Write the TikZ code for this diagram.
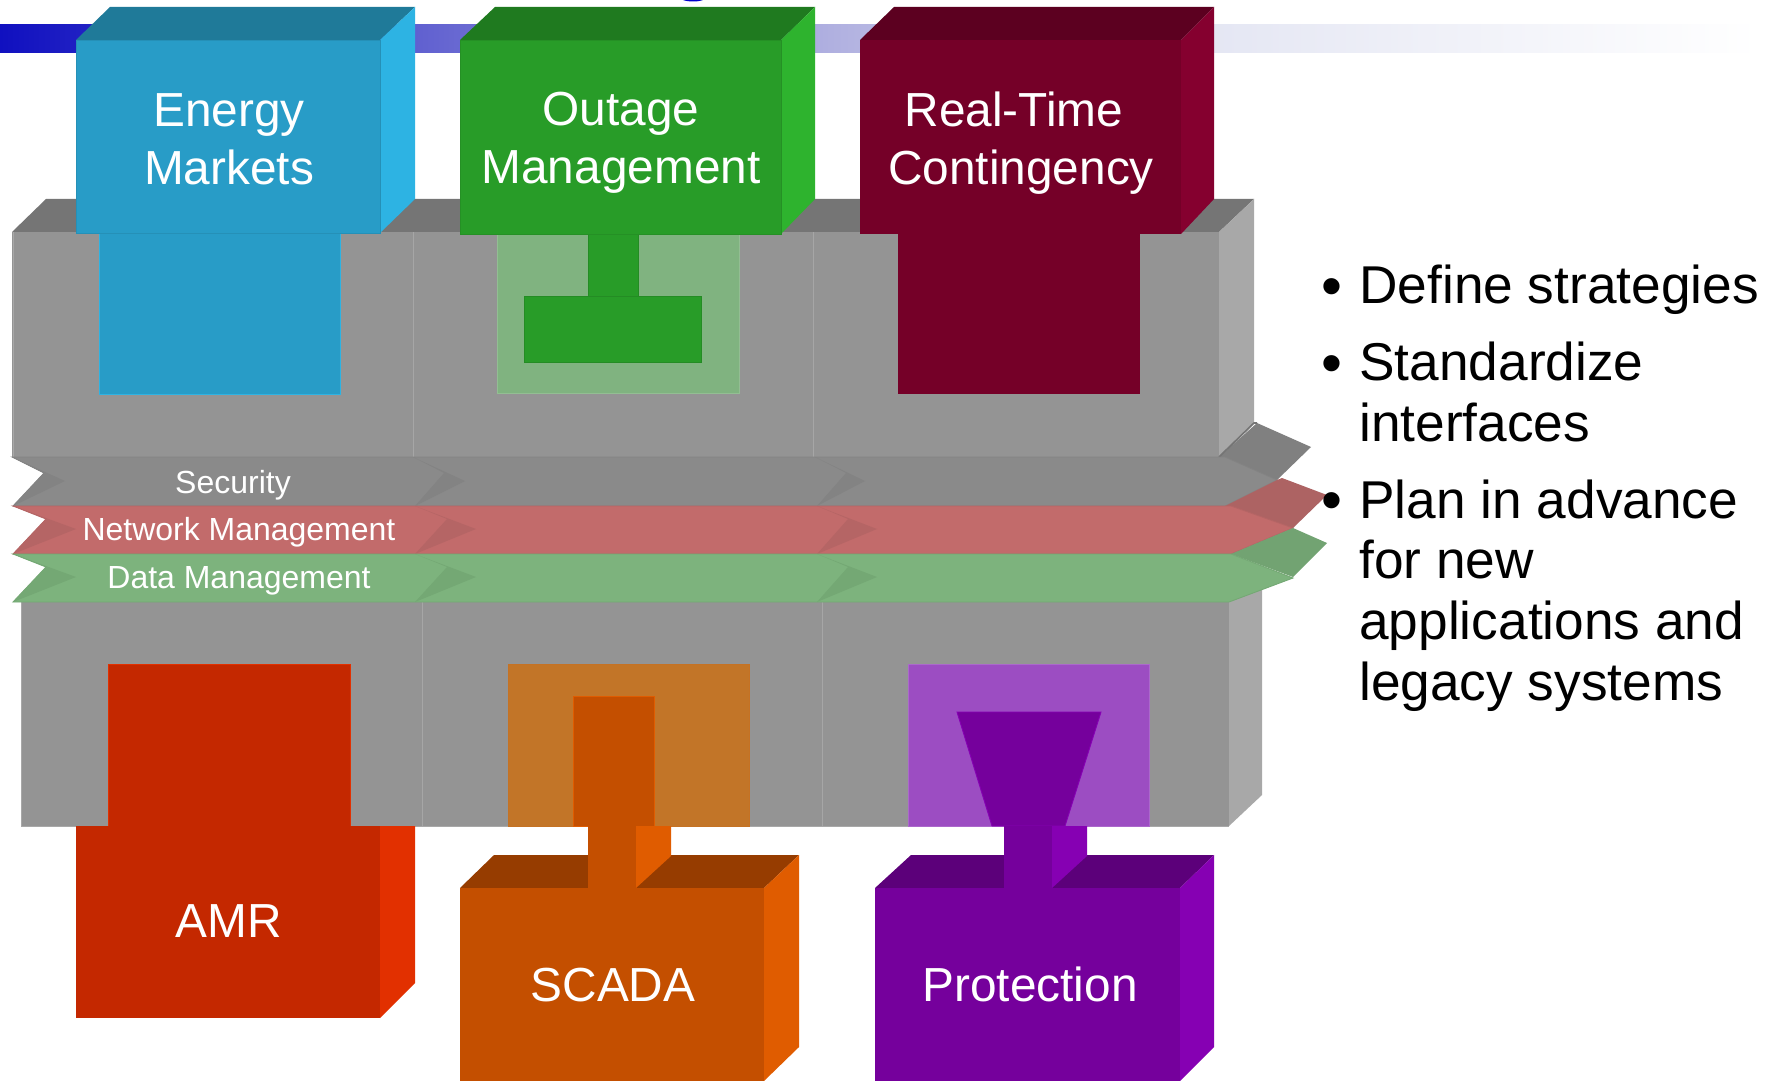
\documentclass[tikz,border=0pt]{standalone}
\usepackage{fontspec}
\setmainfont{Liberation Sans}
\usepackage{tikz}
\definecolor{bluefront}{HTML}{289CC7}
\definecolor{blueside}{HTML}{2DB3E3}
\definecolor{bluetop}{HTML}{1F7A99}
\definecolor{greenfront}{HTML}{289C28}
\definecolor{greenside}{HTML}{2EB32E}
\definecolor{greentop}{HTML}{1F7A1F}
\definecolor{greenglass}{HTML}{80B380}
\definecolor{maroonfront}{HTML}{750028}
\definecolor{maroonside}{HTML}{85002F}
\definecolor{maroontop}{HTML}{5C0020}
\definecolor{redfront}{HTML}{C42800}
\definecolor{redside}{HTML}{E23000}
\definecolor{orangefront}{HTML}{C44F00}
\definecolor{orangeside}{HTML}{E05C00}
\definecolor{orangetop}{HTML}{963C00}
\definecolor{orangeglass}{HTML}{C27528}
\definecolor{purplefront}{HTML}{75009C}
\definecolor{purpleside}{HTML}{8600B3}
\definecolor{purpletop}{HTML}{5C007A}
\definecolor{purpleglass}{HTML}{9C4DC2}
\definecolor{grayfront}{HTML}{949494}
\definecolor{grayside}{HTML}{A8A8A8}
\definecolor{graytop}{HTML}{757575}
\definecolor{graydivide}{HTML}{A6A6A6}
\definecolor{securityband}{HTML}{8A8A8A}
\definecolor{securityfold}{HTML}{808080}
\definecolor{securityshade}{HTML}{838383}
\definecolor{networkband}{HTML}{C26B6B}
\definecolor{networkfold}{HTML}{AD6363}
\definecolor{networkshade}{HTML}{B56565}
\definecolor{databand}{HTML}{7DB37D}
\definecolor{datafold}{HTML}{72A372}
\definecolor{datashade}{HTML}{74A874}
\definecolor{bannerblue}{HTML}{1010C0}
\definecolor{bannermid}{HTML}{B0B0E0}
\definecolor{bannerpale}{HTML}{E4E6F3}

\begin{document}
\begin{tikzpicture}[x=0.02cm,y=0.02cm]
\tikzstyle{every node}+=[inner sep=0pt]
\tikzstyle{boxlabel}=[text=white,align=center,font=\fontsize{27.2}{32.8}\selectfont]
\tikzstyle{lowlabel}=[text=white,anchor=base,font=\fontsize{27.2}{32.8}\selectfont]
\tikzstyle{bandlabel}=[text=white,anchor=base,font=\fontsize{18.2}{21.7}\selectfont]
\tikzstyle{pointlabel}=[text=black,anchor=base west,font=\fontsize{30.3}{34.6}\selectfont]
\tikzstyle{pointdot}=[text=black,anchor=base,font=\fontsize{34}{34.6}\selectfont]
\tikzstyle{thinedge}=[line width=0.5pt]
\useasboundingbox (0,0) rectangle (1774,-1081);
\fill [white] (0,0) rectangle (1774,-1081);
\fill [blue!80!black] (683,0) .. controls (688,-2) and (698,-2) .. (703,0) -- cycle;
\shade [left color=bannerblue,right color=bannermid] (0,-25) rectangle (830,-53);
\shade [left color=bannermid,right color=bannerpale] (830,-25) rectangle (1200,-53);
\shade [left color=bannerpale,right color=white] (1200,-25) rectangle (1760,-53);
\fill [graytop] (12,-232) -- (46,-199) -- (1254,-199) -- (1219,-232) -- cycle;
\fill [grayside] (1219,-232) -- (1254,-199) -- (1254,-423) -- (1219,-457) -- cycle;
\fill [grayfront] (12,-232) rectangle (1219,-457);
\draw [grayside,thinedge] (13,-232) -- (13,-457);
\draw [graydivide,thinedge] (413,-232) -- (413,-457);
\draw [graydivide,thinedge] (813,-232) -- (813,-457);
\filldraw [fill=bluefront,draw=blueside,thinedge] (99,-233) rectangle (340,-394);
\filldraw [fill=greenglass,draw=greenglass!85!white,thinedge] (497,-233) rectangle (739,-393);
\filldraw [fill=greenfront,draw=greenfront!90!black,thinedge] (588,-233) rectangle (638,-296);
\filldraw [fill=greenfront,draw=greenfront!90!black,thinedge] (524,-296) rectangle (701,-362);
\fill [maroonfront] (898,-233) rectangle (1140,-394);
\fill [bluetop] (76,-40) -- (110,-7) -- (415,-7) -- (380,-40) -- cycle;
\fill [blueside] (380,-40) -- (415,-7) -- (415,-199) -- (380,-233) -- cycle;
\filldraw [fill=bluefront,draw=bluefront!92!black,thinedge] (76,-40) rectangle (380,-233);
\fill [greentop] (460,-40) -- (495,-7) -- (815,-7) -- (781,-40) -- cycle;
\fill [greenside] (781,-40) -- (815,-7) -- (815,-199) -- (781,-234) -- cycle;
\filldraw [fill=greenfront,draw=greenfront!92!black,thinedge] (460,-40) rectangle (781,-234);
\fill [maroontop] (860,-40) -- (894,-7) -- (1214,-7) -- (1181,-40) -- cycle;
\fill [maroonside] (1181,-40) -- (1214,-7) -- (1214,-199) -- (1181,-234) -- cycle;
\fill [maroonfront] (860,-40) rectangle (1181,-234);
\fill [grayside] (1229,-595) -- (1262,-585) -- (1262,-795) -- (1229,-826) -- cycle;
\fill [grayfront] (21,-595) rectangle (1229,-826);
\draw [grayside,thinedge] (21,-602) -- (21,-826) -- (1229,-826);
\draw [graydivide,thinedge] (422,-602) -- (422,-826);
\draw [graydivide,thinedge] (822,-602) -- (822,-826);
\filldraw [fill=redfront,draw=redside,thinedge] (108,-664) rectangle (350,-826);
\filldraw [fill=orangeglass,draw=orangeglass!90!orangeside,thinedge] (508,-664) rectangle (749,-826);
\filldraw [fill=orangefront,draw=orangeside,thinedge] (573,-696) rectangle (654,-826);
\filldraw [fill=purpleglass,draw=purpleglass!85!white,thinedge] (908,-664) rectangle (1149,-826);
\filldraw [fill=purplefront,draw=purpleside,thinedge] (957,-712) -- (1101,-712) -- (1065,-826) -- (992,-826) -- cycle;
\fill [securityfold] (1219,-457) -- (1257,-423) -- (1311,-447) -- (1277,-480) -- cycle;
\draw [graytop,line width=1pt] (1219,-457) -- (1254,-423) -- (1257,-423);
\filldraw [fill=securityband,draw=securityshade,thinedge] (12,-457) -- (1225,-457) -- (1277,-480) -- (1225,-506) -- (13,-506) -- (44,-473) -- cycle;
\fill [securityshade] (12,-457) -- (65,-481) -- (13,-506) -- (44,-473) -- cycle;
\fill [securityshade] (413,-457) -- (465,-481) -- (415,-506) -- (444,-473) -- cycle;
\fill [securityshade] (815,-457) -- (865,-481) -- (817,-506) -- (846,-473) -- cycle;
\fill [networkfold] (1225,-506) -- (1277,-480) -- (1282,-478) -- (1327,-495) -- (1293,-528) -- cycle;
\filldraw [fill=networkband,draw=networkshade,thinedge] (13,-506) -- (1231,-506) -- (1293,-528) -- (1231,-554) -- (13,-554) -- (46,-519) -- cycle;
\fill [networkshade] (13,-506) -- (76,-529) -- (13,-554) -- (46,-519) -- cycle;
\fill [networkshade] (415,-506) -- (476,-529) -- (415,-554) -- (447,-519) -- cycle;
\fill [networkshade] (817,-506) -- (877,-529) -- (817,-554) -- (848,-519) -- cycle;
\fill [datafold] (1231,-554) -- (1293,-528) -- (1327,-543) -- (1293,-577) -- cycle;
\filldraw [fill=databand,draw=datashade,thinedge] (13,-554) -- (1231,-554) -- (1293,-578) -- (1229,-602) -- (13,-602) -- (46,-567) -- cycle;
\fill [datashade] (13,-554) -- (76,-577) -- (13,-602) -- (46,-567) -- cycle;
\fill [datashade] (415,-554) -- (476,-577) -- (415,-602) -- (447,-567) -- cycle;
\fill [datashade] (817,-554) -- (877,-577) -- (817,-602) -- (848,-567) -- cycle;
\fill [redside] (380,-826) -- (415,-826) -- (415,-983) -- (380,-1018) -- cycle;
\fill [redfront] (76,-826) rectangle (380,-1018);
\fill [orangetop] (460,-888) -- (494,-855) -- (799,-855) -- (764,-888) -- cycle;
\fill [orangeside] (764,-888) -- (799,-855) -- (799,-1047) -- (764,-1081) -- cycle;
\fill [orangefront] (460,-888) rectangle (764,-1081);
\fill [orangeside] (636,-826) -- (671,-826) -- (671,-856) -- (636,-888) -- cycle;
\fill [orangefront] (588,-826) rectangle (636,-888);
\fill [purpletop] (875,-888) -- (911,-855) -- (1214,-855) -- (1180,-888) -- cycle;
\fill [purpleside] (1180,-888) -- (1214,-855) -- (1214,-1047) -- (1180,-1081) -- cycle;
\fill [purplefront] (875,-888) rectangle (1180,-1081);
\fill [purpleside] (1052,-826) -- (1087,-826) -- (1087,-856) -- (1052,-888) -- cycle;
\fill [purplefront] (1004,-826) rectangle (1052,-888);
\draw (229,-139) node [boxlabel] (energy) {Energy\\Markets};
\draw (621,-143) node [boxlabel] (outage) {Outage\\Management};
\draw (1021,-143) node [boxlabel] (realtime) {Real-Time\hspace*{8pt}\\Contingency};
\draw (233,-493) node [bandlabel] (security) {Security};
\draw (239,-540) node [bandlabel] (network) {Network Management};
\draw (239,-588) node [bandlabel] (datamgmt) {Data Management};
\draw (229,-937) node [lowlabel] (amr) {AMR};
\draw (613,-1001) node [lowlabel] (scada) {SCADA};
\draw (1030,-1001) node [lowlabel] (protection) {Protection};
\draw (1332,-306.5) node [pointdot] (dota) {\textbullet};
\draw (1359,-303) node [pointlabel] (pointa) {Define strategies};
\draw (1332,-383.5) node [pointdot] (dotb) {\textbullet};
\draw (1359,-380) node [pointlabel] (pointb) {Standardize};
\draw (1359,-441) node [pointlabel] (pointc) {interfaces};
\draw (1332,-520.5) node [pointdot] (dotc) {\textbullet};
\draw (1359,-518) node [pointlabel] (pointd) {Plan in advance};
\draw (1359,-578) node [pointlabel] (pointe) {for new};
\draw (1359,-639) node [pointlabel] (pointf) {applications and};
\draw (1359,-700) node [pointlabel] (pointg) {legacy systems};
\end{tikzpicture}
\end{document}
